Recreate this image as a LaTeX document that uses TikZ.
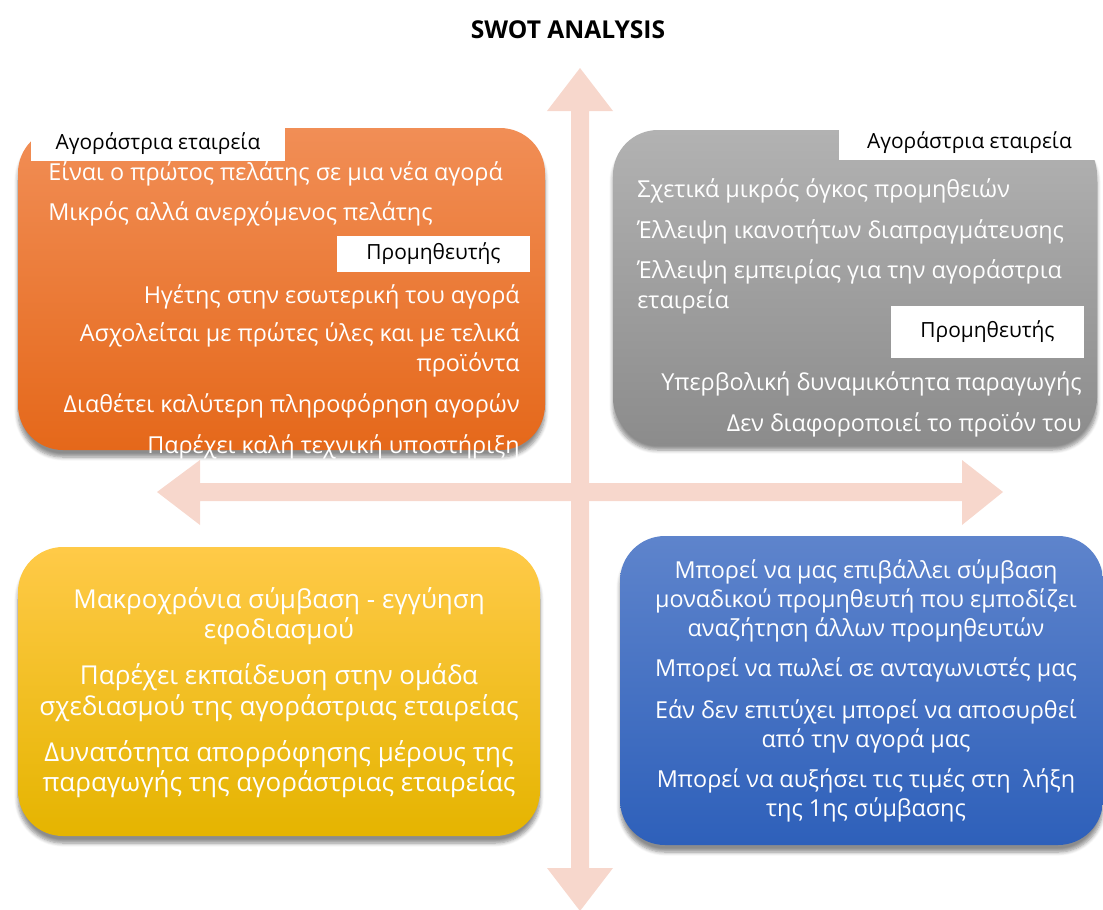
\documentclass[tikz,border=0pt]{standalone}
\usepackage{fontspec}
\setmainfont{Open Sans}
\usepackage{xcolor}
\usepackage{tikz}
\usetikzlibrary{fit,shadows.blur}

\definecolor{axispink}{RGB}{247,215,204}
\definecolor{orangetop}{RGB}{241,142,86}
\definecolor{orangebot}{RGB}{229,104,26}
\definecolor{greytop}{RGB}{178,178,178}
\definecolor{greybot}{RGB}{140,140,140}
\definecolor{yellowtop}{RGB}{255,202,72}
\definecolor{yellowbot}{RGB}{229,180,0}
\definecolor{bluetop}{RGB}{94,132,204}
\definecolor{bluebot}{RGB}{46,96,186}

\begin{document}
\begin{tikzpicture}[
  x=0.02cm,y=-0.02cm,
  txt/.style={font=\fontsize{13.3}{16}\selectfont,text=white,inner sep=0pt},
  bigtxt/.style={txt,font=\fontsize{14.8}{17}\selectfont},
  tag/.style={fill=white,inner sep=0pt,font=\fontsize{11.9}{14}\selectfont},
  quad/.style={rounded corners=0.9cm,inner sep=0pt,
    blur shadow={shadow xshift=0pt,shadow yshift=-4pt,shadow blur steps=6,shadow opacity=45}}
]
\useasboundingbox (0,0) rectangle (1103,910);

\node[font=\bfseries\fontsize{14}{16}\selectfont] (title) at (568,30) {SWOT ANALYSIS};

% the two axes
\fill[axispink] (571,111) -- (547,111) -- (580,68) -- (613,111) -- (589,111)
  -- (589,868) -- (613,868) -- (580,911) -- (547,868) -- (571,868) -- cycle;
\fill[axispink] (200,483) -- (200,460) -- (157,492) -- (200,525) -- (200,501)
  -- (962,501) -- (962,525) -- (1003,492) -- (962,460) -- (962,483) -- cycle;

% quadrants
\node[quad,top color=orangetop,bottom color=orangebot,fit={(18,128)(545,450)}] (str) {};
\node[quad,top color=greytop,bottom color=greybot,fit={(613,130)(1097,443)}] (weak) {};
\node[quad,top color=yellowtop,bottom color=yellowbot,fit={(18,547)(540,836)}] (opp) {};
\node[quad,top color=bluetop,bottom color=bluebot,fit={(620,536)(1103,845)}] (thr) {};

% strengths
\node[tag,minimum width=5.08cm,minimum height=0.7cm] (strbuy) at (158,143.5) {Αγοράστρια εταιρεία};
\foreach \y/\t [count=\i] in {180/Είναι ο πρώτος πελάτης σε μια νέα αγορά,
    220/Μικρός αλλά ανερχόμενος πελάτης}
  \node[txt,anchor=base west] (strb\i) at (48,\y) {\t};
\node[tag,minimum width=3.86cm,minimum height=0.72cm] (strsup) at (433.5,254) {Προμηθευτής};
\foreach \y/\t [count=\i] in {303/Ηγέτης στην εσωτερική του αγορά,
    341/Ασχολείται με πρώτες ύλες και με τελικά,
    371/προϊόντα,
    412/Διαθέτει καλύτερη πληροφόρηση αγορών,
    453/Παρέχει καλή τεχνική υποστήριξη}
  \node[txt,anchor=base east] (strs\i) at (520,\y) {\t};

% weaknesses
\node[tag,minimum width=5.22cm,minimum height=0.7cm] (weakbuy) at (969.5,142.5) {Αγοράστρια εταιρεία};
\foreach \y/\t [count=\i] in {197/Σχετικά μικρός όγκος προμηθειών,
    238/Έλλειψη ικανοτήτων διαπραγμάτευσης,
    278/Έλλειψη εμπειρίας για την αγοράστρια,
    308/εταιρεία}
  \node[txt,anchor=base west] (weakb\i) at (637,\y) {\t};
\node[tag,minimum width=3.86cm,minimum height=1.04cm] (weaksup) at (987.5,332) {Προμηθευτής};
\foreach \y/\t [count=\i] in {390/Υπερβολική δυναμικότητα παραγωγής,
    431/Δεν διαφοροποιεί το προϊόν του}
  \node[txt,anchor=base east] (weaks\i) at (1082,\y) {\t};

% opportunities
\foreach \y/\t [count=\i] in {608/Μακροχρόνια σύμβαση - εγγύηση,
    638/εφοδιασμού,
    684/Παρέχει εκπαίδευση στην ομάδα,
    715/σχεδιασμού της αγοράστριας εταιρείας,
    761/Δυνατότητα απορρόφησης μέρους της,
    791/παραγωγής της αγοράστριας εταιρείας}
  \node[bigtxt,anchor=base] (opp\i) at (279,\y) {\t};

% threats
\foreach \y/\t [count=\i] in {578/Μπορεί να μας επιβάλλει σύμβαση,
    607/μοναδικού προμηθευτή που εμποδίζει,
    636/αναζήτηση άλλων προμηθευτών,
    676/Μπορεί να πωλεί σε ανταγωνιστές μας,
    718/Εάν δεν επιτύχει μπορεί να αποσυρθεί,
    747/από την αγορά μας,
    787/Μπορεί να αυξήσει τις τιμές στη\ \ λήξη,
    816/της 1ης σύμβασης}
  \node[txt,anchor=base] (thr\i) at (866,\y) {\t};
\end{tikzpicture}
\end{document}
